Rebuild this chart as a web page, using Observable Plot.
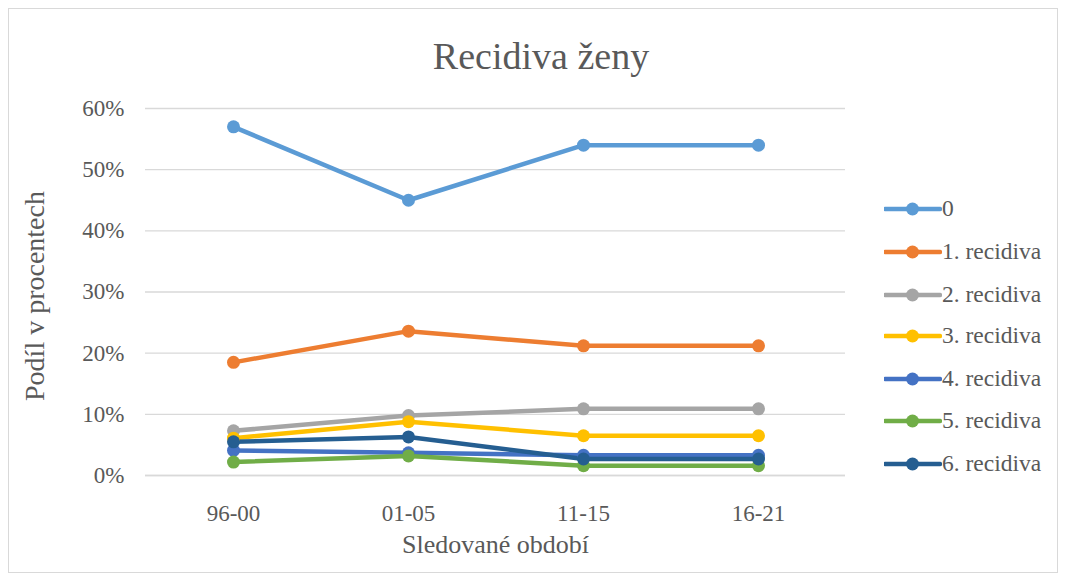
<!DOCTYPE html>
<html><head><meta charset="utf-8">
<script src="https://cdn.jsdelivr.net/npm/d3@7"></script>
<script src="https://cdn.jsdelivr.net/npm/@observablehq/plot@0.6"></script>
<style>
body{margin:0;background:#fff;font-family:"Liberation Serif","Times New Roman",serif;}
#wrap{position:relative;width:1067px;height:579px;}
#frame{position:absolute;left:8px;top:8px;width:1050px;height:565px;border:1px solid #d9d9d9;box-sizing:border-box;}
#title{position:absolute;left:0;width:1082px;top:34px;text-align:center;font-size:38px;color:#595959;line-height:44px;}
#legend{position:absolute;left:884px;top:0;}
.li{position:absolute;left:0;height:24px;white-space:nowrap;font-size:23.5px;color:#595959;line-height:24px;}
</style></head>
<body><div id="wrap"><div id="frame"></div><div id="chart"></div><div id="title">Recidiva ženy</div><div id="legend"></div></div>
<script>
const periods = ["96-00","01-05","11-15","16-21"];
const seriesNames = ["0","1. recidiva","2. recidiva","3. recidiva","4. recidiva","5. recidiva","6. recidiva"];
const colors = ["#5B9BD5","#ED7D31","#A5A5A5","#FFC000","#4472C4","#70AD47","#255E91"];
const s0 = [0.57,0.45,0.54,0.54];
const s1 = [0.185,0.236,0.212,0.212];
const s2 = [0.073,0.098,0.109,0.109];
const s3 = [0.061,0.088,0.065,0.065];
const s4 = [0.041,0.037,0.033,0.033];
const s5 = [0.022,0.032,0.016,0.016];
const s6 = [0.055,0.063,0.027,0.027];
const allSeries = [s0,s1,s2,s3,s4,s5,s6];
const yTicks = [0,0.1,0.2,0.3,0.4,0.5,0.6];

const data = [];
allSeries.forEach((vals,i)=>vals.forEach((v,j)=>data.push({series:seriesNames[i],period:periods[j],value:v})));

const plot = Plot.plot({
  width:1067, height:579,
  marginLeft:145, marginRight:222, marginTop:108, marginBottom:104,
  style:{fontFamily:"Liberation Serif, Times New Roman, serif", fontSize:"23px", color:"#595959", background:"transparent"},
  x:{type:"point", domain:periods, padding:0.5, label:null},
  y:{domain:[0,0.6], ticks:yTicks, label:null},
  color:{domain:seriesNames, range:colors},
  marks:[
    Plot.gridY(yTicks,{stroke:"#d9d9d9", strokeOpacity:1, strokeWidth:1.3}),
    Plot.ruleY([0],{stroke:"#d9d9d9", strokeWidth:1.3}),
    Plot.axisY(yTicks,{tickSize:0, tickPadding:21, fontSize:23, tickFormat:d=>Math.round(d*100)+"%", fill:"#595959", label:null}),
    Plot.axisX({tickSize:0, tickPadding:29, fontSize:23, fill:"#595959", label:null}),
    Plot.line(data,{x:"period", y:"value", z:"series", stroke:"series", strokeWidth:4.5}),
    Plot.dot(data,{x:"period", y:"value", fill:"series", r:6.5}),
    Plot.text(["Podíl v procentech"],{frameAnchor:"left", textAnchor:"middle", dx:-110, dy:4, rotate:-90, fontSize:28, fill:"#595959"}),
    Plot.text(["Sledované období"],{frameAnchor:"bottom", lineAnchor:"middle", dy:69, fontSize:26, fill:"#595959"})
  ]
});
document.getElementById("chart").appendChild(plot);

const leg = document.getElementById("legend");
const rowsY = [206,249,292,333,376,418,461];
seriesNames.forEach((n,i)=>{
  const d = document.createElement("div");
  d.className="li";
  d.style.top=(rowsY[i]-12)+"px";
  d.innerHTML=`<svg width="58" height="24" style="vertical-align:middle"><line x1="1" x2="56" y1="12" y2="12" stroke="${colors[i]}" stroke-width="4.5" stroke-linecap="round"/><circle cx="28.5" cy="12" r="6.5" fill="${colors[i]}"/></svg><span style="vertical-align:middle;position:relative;top:-1px">${n}</span>`;
  leg.appendChild(d);
});
</script></body></html>
